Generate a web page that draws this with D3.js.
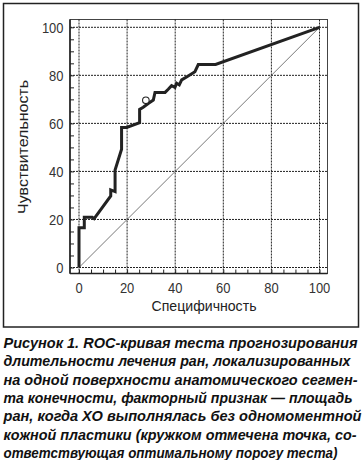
<!DOCTYPE html>
<html>
<head>
<meta charset="utf-8">
<script src="https://cdn.jsdelivr.net/npm/d3@7"></script>
<style>
  body { margin: 0; background: #fff; }
  svg { display: block; }
  .tick-label { font-family: "Liberation Sans", Arial, sans-serif; font-size: 15px; fill: #333; }
  .axis-title { font-family: "Liberation Sans", Arial, sans-serif; font-size: 15px; fill: #222; }
  .caption { font-family: "Liberation Sans", Arial, sans-serif; font-size: 14px; font-weight: bold; font-style: italic; fill: #111; }
</style>
</head>
<body>
<div id="chart"></div>
<script>
// ROC curve: x = 100 - specificity, y = sensitivity (both in %)
let rocX = [0, 0, 2.2, 2.2, 5.5, 6.3, 13.2, 13.2, 15.0, 15.0, 17.7, 17.7, 19.8, 25.2, 25.2, 26.7,
            28.8, 30.9, 31.6, 35.8, 37.1, 38.5, 39.9, 40.6, 41.7, 42.7, 45.4, 48.2, 49.6, 56.8, 100];
let rocY = [0, 16.6, 16.6, 20.9, 20.9, 20.3, 29.8, 32.3, 31.6, 40.6, 49.2, 58.3, 58.3, 60.3, 65.8, 66.7,
            68.3, 69.7, 72.9, 72.9, 74.2, 75.7, 75.0, 76.7, 76.0, 78.1, 79.7, 81.5, 84.5, 84.5, 100];
// optimal cut-off point (circle)
let optimum = [27.8, 69.6];
let reference = [[0, 0], [100, 100]];

let majorTicks = [0, 20, 40, 60, 80, 100];
let minorTicks = d3.range(0, 101, 5);

let xTitle = "Специфичность";
let yTitle = "Чувствительность";
let captionLines = [
    "Рисунок 1. ROC-кривая теста прогнозирования",
    "длительности лечения ран, локализированных",
    "на одной поверхности анатомического сегмен-",
    "та конечности, факторный признак — площадь",
    "ран, когда ХО выполнялась без одномоментной",
    "кожной пластики (кружком отмечена точка, со-",
    "ответствующая оптимальному порогу теста)"
];
let captionWidths = [354, 347, 354, 349, 358, 353, 334];

let W = 364, H = 460;
let box = {left: 70, right: 327.5, top: 19.5, bottom: 273.5};

let svg = d3.select("#chart").append("svg")
    .attr("width", W)
    .attr("height", H);

// outer frame
svg.append("rect")
    .attr("x", 3.5).attr("y", 3.5)
    .attr("width", 355).attr("height", 323.5)
    .attr("fill", "none")
    .attr("stroke", "#222")
    .attr("stroke-width", 1.5);

// scales
let x = d3.scaleLinear().domain([0, 100]).range([79, 319.5]);
let y = d3.scaleLinear().domain([0, 100]).range([267.5, 27.3]);

// plot box
svg.append("rect")
    .attr("x", box.left).attr("y", box.top)
    .attr("width", box.right - box.left).attr("height", box.bottom - box.top)
    .attr("fill", "none")
    .attr("stroke", "#444")
    .attr("stroke-width", 1);

// dotted gridlines
svg.append("g")
    .selectAll("line")
    .data(majorTicks)
    .enter().append("line")
    .attr("x1", d => x(d)).attr("x2", d => x(d))
    .attr("y1", box.top).attr("y2", box.bottom)
    .attr("stroke", "#222")
    .attr("stroke-width", 1)
    .attr("stroke-dasharray", "2,1");

svg.append("g")
    .selectAll("line")
    .data(majorTicks)
    .enter().append("line")
    .attr("x1", box.left).attr("x2", box.right)
    .attr("y1", d => y(d)).attr("y2", d => y(d))
    .attr("stroke", "#222")
    .attr("stroke-width", 1)
    .attr("stroke-dasharray", "2,1");

// axes (inward ticks)
let yAxis = svg.append("g")
    .attr("transform", "translate(" + box.left + ",0)")
    .call(d3.axisRight(y).tickValues(minorTicks).tickSize(4).tickFormat(""));
yAxis.select(".domain").remove();
yAxis.selectAll(".tick line").attr("stroke", "#222");

let xAxis = svg.append("g")
    .attr("transform", "translate(0," + box.bottom + ")")
    .call(d3.axisTop(x).tickValues(minorTicks).tickSize(4).tickFormat(""));
xAxis.select(".domain").remove();
xAxis.selectAll(".tick line").attr("stroke", "#222");

// solid axis lines
svg.append("line")
    .attr("x1", box.left).attr("x2", box.left)
    .attr("y1", box.top).attr("y2", box.bottom)
    .attr("stroke", "#222").attr("stroke-width", 1.6);
svg.append("line")
    .attr("x1", box.left).attr("x2", box.right)
    .attr("y1", box.bottom).attr("y2", box.bottom)
    .attr("stroke", "#222").attr("stroke-width", 1.6);

// tick labels
svg.append("g")
    .selectAll("text")
    .data(majorTicks)
    .enter().append("text")
    .attr("class", "tick-label")
    .attr("x", 63.5)
    .attr("y", d => y(d) + 5.5)
    .attr("text-anchor", "end")
    .attr("textLength", d => String(d).length * 7.2)
    .attr("lengthAdjust", "spacingAndGlyphs")
    .text(d => d);

svg.append("g")
    .selectAll("text")
    .data(majorTicks)
    .enter().append("text")
    .attr("class", "tick-label")
    .attr("x", d => x(d) - String(d).length * 3.6)
    .attr("y", 293)
    .attr("textLength", d => String(d).length * 7.2)
    .attr("lengthAdjust", "spacingAndGlyphs")
    .text(d => d);

// axis titles
svg.append("text")
    .attr("class", "axis-title")
    .attr("x", 204 - 52.5)
    .attr("y", 311)
    .attr("textLength", 105)
    .attr("lengthAdjust", "spacingAndGlyphs")
    .text(xTitle);

svg.append("text")
    .attr("class", "axis-title")
    .attr("transform", "translate(27.5," + (147 + 67) + ") rotate(-90)")
    .attr("textLength", 134)
    .attr("lengthAdjust", "spacingAndGlyphs")
    .text(yTitle);

// reference diagonal
svg.append("line")
    .attr("x1", x(reference[0][0])).attr("y1", y(reference[0][1]))
    .attr("x2", x(reference[1][0])).attr("y2", y(reference[1][1]))
    .attr("stroke", "#555")
    .attr("stroke-width", 0.8);

// ROC curve
let rocData = rocX.map((d, i) => [d, rocY[i]]);
svg.append("path")
    .datum(rocData)
    .attr("fill", "none")
    .attr("stroke", "#222")
    .attr("stroke-width", 3)
    .attr("stroke-linejoin", "miter")
    .attr("d", d3.line().x(d => x(d[0])).y(d => y(d[1])));

svg.append("circle")
    .attr("cx", x(optimum[0]))
    .attr("cy", y(optimum[1]))
    .attr("r", 3.3)
    .attr("fill", "#fff")
    .attr("stroke", "#222")
    .attr("stroke-width", 1.1);

// caption
svg.append("g")
    .selectAll("text")
    .data(captionLines)
    .enter().append("text")
    .attr("class", "caption")
    .attr("x", 3.5)
    .attr("y", (d, i) => 348 + i * 18.3)
    .attr("textLength", (d, i) => captionWidths[i])
    .attr("lengthAdjust", "spacingAndGlyphs")
    .text(d => d);
</script>
</body>
</html>
